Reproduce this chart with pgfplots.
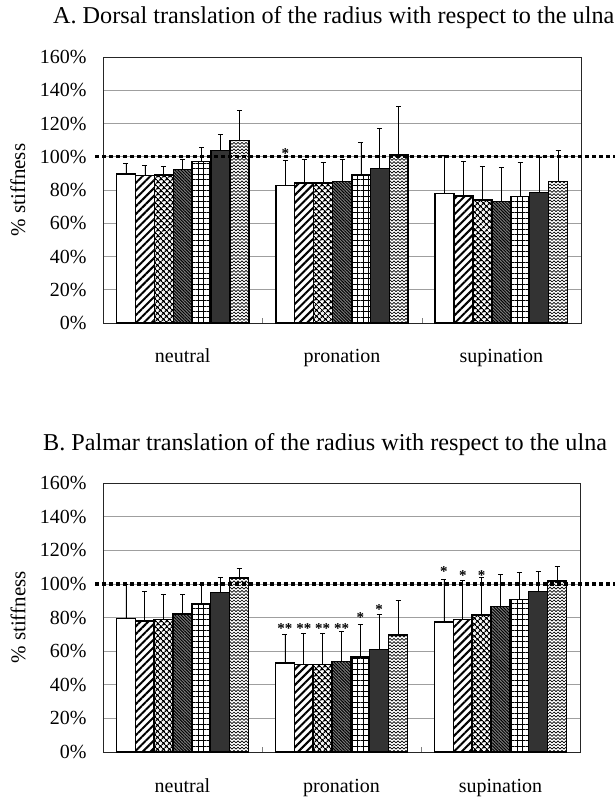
\documentclass[border=0pt]{standalone}
\usepackage{fontspec}
\setmainfont{Liberation Serif}
\usepackage{pgfplots}
\pgfplotsset{compat=1.18}
\usetikzlibrary{patterns,patterns.meta}

\pgfdeclarepatternformonly{zigzag}{\pgfpoint{-0.5pt}{-0.5pt}}{\pgfpoint{4.5pt}{3.7pt}}{\pgfpoint{4pt}{3.2pt}}{%
  \pgfsetlinewidth{0.7pt}%
  \pgfpathmoveto{\pgfpoint{0pt}{0.6pt}}%
  \pgfpathlineto{\pgfpoint{2pt}{2.6pt}}%
  \pgfpathlineto{\pgfpoint{4pt}{0.6pt}}%
  \pgfusepath{stroke}}

\pgfplotsset{
  barbase/.style={ybar, bar width=18.9pt, bar shift=0pt, draw=black, line width=1.4pt, fill=white,
    error bars/y dir=plus, error bars/y explicit,
    error bars/error bar style={line width=0.7pt, black},
    error bars/error mark options={rotate=90, mark size=2.5pt, line width=0.7pt, black}},
  s1/.style={barbase},
  s2/.style={barbase, postaction={pattern={Lines[angle=45,distance=5.5pt,line width=2pt]}}},
  s3/.style={barbase, postaction={pattern={Hatch[angle=45,distance=4pt,line width=1.3pt]}}},
  s4/.style={barbase, fill=gray!55!black!70, postaction={pattern={Lines[angle=-45,distance=2.2pt,line width=1pt]}}},
  s5/.style={barbase, postaction={pattern={Hatch[angle=0,distance=5.5pt,line width=0.9pt]}}},
  s6/.style={barbase, fill=black!80},
  s7/.style={barbase, postaction={pattern=zigzag}},
  stars/.style={draw=none, forget plot, nodes near coords, point meta=explicit symbolic,
    every node near coord/.append style={anchor=center, font=\fontsize{15}{15}\bfseries\selectfont, yshift=-3.5pt, inner sep=0pt}},
  hundred/.style={forget plot, black, line width=3.5pt, dash pattern=on 3.5pt off 3.5pt},
  myaxis/.style={
    scale only axis, clip=false,
    xmin=-0.5, xmax=2.5, ymin=0, ymax=160,
    xtick={0,1,2}, xticklabels={neutral,pronation,supination},
    minor xtick={0.5,1.5},
    ytick={0,20,...,160},
    yticklabel={\pgfmathprintnumber{\tick}\%},
    /pgf/number format/assume math mode=true,
    ymajorgrids, grid style={gray!75, line width=0.6pt},
    major tick length=0pt, minor tick length=5pt, tick align=inside,
    xtick pos=bottom, ytick pos=left,
    axis line style={black!85, line width=0.8pt},
    tick label style={font=\fontsize{20}{24}\selectfont},
    yticklabel style={anchor=east, xshift=-13pt},
    xticklabel style={anchor=base, yshift=-40pt},
    ylabel={\% stiffness},
    ylabel style={at={(axis description cs:-0.178,0.5)}, anchor=center, font=\fontsize{21}{24}\selectfont},
    title style={anchor=base west, inner sep=0pt, font=\fontsize{24.2}{28}\selectfont},
  }
}

\begin{document}
\begin{tikzpicture}
\useasboundingbox (0,0) rectangle (614pt,801pt);

% ---------------- A ----------------
\begin{axis}[myaxis, at={(103pt,478pt)}, anchor=south west, width=478pt, height=266pt,
  title={A. Dorsal translation of the radius with respect to the ulna},
  title style={at={(axis description cs:-0.1046,1.105)}}]
\addplot[s1] coordinates {(-0.35586,89.6) +- (0,6.4) (0.64414,82.6) +- (0,15.0) (1.64414,78.0) +- (0,23.0)};
\addplot[s2] coordinates {(-0.23724,88.6) +- (0,6.0) (0.76276,84.2) +- (0,14.4) (1.76276,76.4) +- (0,20.6)};
\addplot[s3] coordinates {(-0.11862,89.0) +- (0,5.2) (0.88138,84.2) +- (0,12.4) (1.88138,74.0) +- (0,20.4)};
\addplot[s4] coordinates {(0,92.4) +- (0,6.2) (1,85.2) +- (0,13.4) (2,73.2) +- (0,20.2)};
\addplot[s5] coordinates {(0.11862,97.0) +- (0,8.6) (1.11862,89.0) +- (0,19.6) (2.11862,76.0) +- (0,20.4)};
\addplot[s6] coordinates {(0.23724,103.6) +- (0,10.0) (1.23724,93.0) +- (0,24.0) (2.23724,78.6) +- (0,21.0)};
\addplot[s7] coordinates {(0.35586,109.6) +- (0,18.4) (1.35586,101.0) +- (0,29.5) (2.35586,85.2) +- (0,18.8)};
\addplot[stars] coordinates {(0.64414,104) [*]};
\addplot[hundred] coordinates {(-0.55,100) (2.72,100)};
\end{axis}

% ---------------- B ----------------
\begin{axis}[myaxis, at={(103pt,49pt)}, anchor=south west, width=477pt, height=269pt,
  title={B. Palmar translation of the radius with respect to the ulna},
  title style={at={(axis description cs:-0.1258,1.100)}}]
\addplot[s1] coordinates {(-0.35586,79.4) +- (0,20.6) (0.64414,52.9) +- (0,17.1) (1.64414,77.4) +- (0,25.4)};
\addplot[s2] coordinates {(-0.23724,77.8) +- (0,17.6) (0.76276,52.1) +- (0,18.3) (1.76276,78.8) +- (0,23.0)};
\addplot[s3] coordinates {(-0.11862,78.8) +- (0,15.0) (0.88138,52.1) +- (0,18.7) (1.88138,81.4) +- (0,22.4)};
\addplot[s4] coordinates {(0,82.0) +- (0,11.8) (1,53.9) +- (0,18.1) (2,86.4) +- (0,19.0)};
\addplot[s5] coordinates {(0.11862,88.0) +- (0,11.8) (1.11862,56.5) +- (0,19.5) (2.11862,90.6) +- (0,16.4)};
\addplot[s6] coordinates {(0.23724,95.0) +- (0,8.8) (1.23724,61.0) +- (0,20.8) (2.23724,95.6) +- (0,12.0)};
\addplot[s7] coordinates {(0.35586,103.4) +- (0,6.0) (1.35586,69.5) +- (0,20.5) (2.35586,101.6) +- (0,8.8)};
\addplot[stars] coordinates {
  (0.64414,75.8) [**] (0.76276,75.8) [**] (0.88138,75.8) [**] (1.0,75.8) [**]
  (1.11862,82.2) [*] (1.23724,86.6) [*]
  (1.64414,109.7) [*] (1.76276,107) [*] (1.88138,107) [*]};
\addplot[hundred] coordinates {(-0.55,100) (2.72,100)};
\end{axis}
\end{tikzpicture}
\end{document}
